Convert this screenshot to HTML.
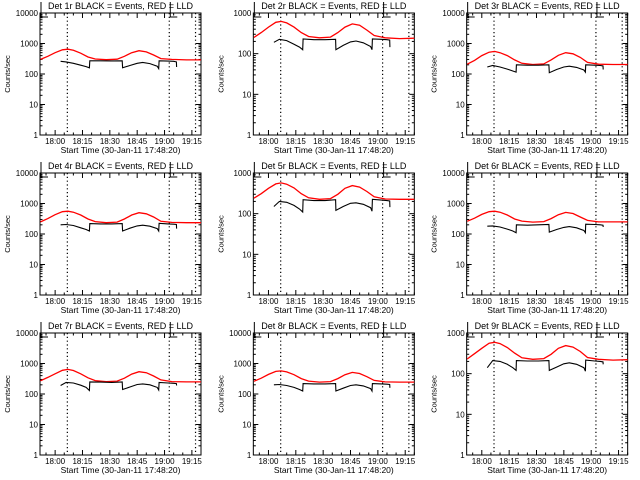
<!DOCTYPE html>
<html><head><meta charset="utf-8"><style>
body{margin:0;background:#fff;width:640px;height:480px;overflow:hidden}
svg{display:block;font-family:"Liberation Sans",sans-serif}
</style></head><body>
<svg id="chart" width="640" height="480" viewBox="0 0 640 480"></svg>
<script>
const detectors = ["1r","2r","3r","4r","5r","6r","7r","8r","9r"];
const yDecades = [4,3,4,4,3,4,4,4,3];
const xTickLabels = ["18:00","18:15","18:30","18:45","19:00","19:15"];
const xTickMinutes = [0,15,30,45,60,75];
const markerMinutes = [6.7,62.6,77];
const redTimes = [-8,-4,0,4,7,10,14,18,22,28,34,38,42,46,50,54,58,64,72,80];
const red1 = [300,380,500,620,650,600,480,360,310,295,305,380,500,580,530,420,320,300,290,290];
const red2 = [250,330,450,590,620,570,450,330,265,245,255,330,450,540,500,380,280,245,235,240];
const red3 = [210,280,400,520,550,500,400,290,225,205,215,290,410,500,460,350,240,210,205,205];
const red4 = [250,320,430,540,560,520,420,310,255,235,245,310,420,500,460,360,260,240,235,235];
const red5 = [240,310,420,540,570,530,430,310,245,225,235,300,420,490,450,350,260,230,225,225];
const red6 = [260,330,440,540,560,520,420,310,265,245,255,320,430,510,470,360,280,250,250,250];
const red7 = [270,350,460,600,640,590,460,340,275,255,265,330,450,540,500,390,290,255,250,250];
const red8 = [260,330,440,550,570,530,430,320,265,245,255,320,430,510,470,370,280,250,245,245];
const red9 = [230,310,420,560,590,550,440,320,245,225,235,300,420,490,450,350,250,225,215,220];
const blackTimes = [3,6,10,14,17,18.8,19,25,31,36.8,37,41,45,48,52,56,56.8,57,62,65,66.5,66.6];
const black1 = [260,250,225,195,175,160,270,270,268,270,160,190,225,240,220,180,150,270,265,260,250,170];
const black2 = [190,225,210,170,145,125,230,220,220,225,125,160,195,205,185,150,125,230,225,220,215,145];
const black3 = [170,190,170,145,125,115,200,195,195,200,110,140,170,180,165,135,115,200,195,190,185,140];
const black4 = [200,205,190,160,140,125,220,215,215,220,125,155,185,195,180,150,125,225,215,210,205,150];
const black5 = [150,200,190,160,130,110,220,210,210,220,120,150,180,185,170,140,115,225,215,210,205,145];
const black6 = [180,185,170,145,125,110,200,195,200,205,115,140,165,175,160,130,110,210,205,200,195,170];
const black7 = [190,240,230,195,165,130,250,245,240,250,140,170,205,215,200,165,135,240,230,225,220,190];
const black8 = [200,205,190,165,140,125,220,215,215,220,125,155,190,200,185,150,125,220,215,210,205,160];
const black9 = [140,210,200,170,140,120,210,205,205,210,120,145,175,185,170,140,115,215,205,200,195,170];
const redSeries = [red1,red2,red3,red4,red5,red6,red7,red8,red9];
const blackSeries = [black1,black2,black3,black4,black5,black6,black7,black8,black9];

const NS = "http://www.w3.org/2000/svg";
const svg = document.getElementById("chart");
function mk(tag, attrs, parent){const e=document.createElementNS(NS,tag);for(const k in attrs)e.setAttribute(k,attrs[k]);(parent||svg).appendChild(e);return e;}

for(let p=0;p<9;p++){
  const col=p%3,row=Math.floor(p/3);
  const ox=col*213.33, oy=row*160;
  const L=ox+40, R=ox+201, T=oy+13, B=oy+135;
  const dec=yDecades[p];
  const tmin=-8.3, tmax=80;
  const xs=t=>L+(t-tmin)/(tmax-tmin)*(R-L);
  const ys=v=>B-Math.log10(v)/dec*(B-T);
  const g=mk("g",{});
  
  
  const frame=mk("rect",{x:L,y:T,width:R-L,height:B-T,fill:"none",stroke:"#000","stroke-width":1},g);
  
  
  for(let d=0;d<=dec;d++){
    const y=ys(Math.pow(10,d));
    mk("line",{x1:L,x2:L+5,y1:y,y2:y,stroke:"#000"},g);
    mk("line",{x1:R,x2:R-5,y1:y,y2:y,stroke:"#000"},g);
    const lab=mk("text",{x:L-2,y:y+3,"text-anchor":"end","font-size":"8"},g);
    lab.textContent=String(Math.pow(10,d));
    
    
    if(d<dec)for(let m=2;m<10;m++){const ym=ys(m*Math.pow(10,d));
      mk("line",{x1:L,x2:L+2.5,y1:ym,y2:ym,stroke:"#000"},g);
      mk("line",{x1:R,x2:R-2.5,y1:ym,y2:ym,stroke:"#000"},g);}
  }
  for(let i=0;i<xTickMinutes.length;i++){
    const x=xs(xTickMinutes[i]);
    mk("line",{x1:x,x2:x,y1:B,y2:B-5,stroke:"#000"},g);
    mk("line",{x1:x,x2:x,y1:T,y2:T+5,stroke:"#000"},g);
    const lab=mk("text",{x:x,y:B+9,"text-anchor":"middle","font-size":"8"},g);
    lab.textContent=xTickLabels[i];
    
    
  }
  for(let t=-5;t<=80;t+=5){if(t%15===0)continue;const x=xs(t);
    mk("line",{x1:x,x2:x,y1:B,y2:B-2.5,stroke:"#000"},g);
    mk("line",{x1:x,x2:x,y1:T,y2:T+2.5,stroke:"#000"},g);}
  markerMinutes.forEach(m=>{const x=xs(m);
    const ln=mk("line",{x1:x,x2:x,y1:T,y2:B,stroke:"#000","stroke-dasharray":"1.2,2.6","stroke-width":1.2},g);
    
    });
  [tmin,markerMinutes[1]].forEach(t=>{const x=xs(t)+1;
    mk("polyline",{points:`${x},${oy+2} ${x},${T+4} ${x+7},${T+4}`,fill:"none",stroke:"#000"},g);});
  const rp=redTimes.map((t,i)=>xs(t).toFixed(1)+","+ys(redSeries[p][i]).toFixed(1)).join(" ");
  const rl=mk("polyline",{points:rp,fill:"none",stroke:"#f00","stroke-width":1.3},g);
  
  
  const bp=blackTimes.map((t,i)=>xs(t).toFixed(1)+","+ys(blackSeries[p][i]).toFixed(1)).join(" ");
  const bl=mk("polyline",{points:bp,fill:"none",stroke:"#000","stroke-width":1.1},g);
  
  
  const ti=mk("text",{x:(L+R)/2,y:oy+9,"text-anchor":"middle","font-size":"9"},g);
  ti.textContent="Det "+detectors[p]+" BLACK = Events, RED = LLD";
  
  
  const xt=mk("text",{x:(L+R)/2,y:B+18,"text-anchor":"middle","font-size":"8.5"},g);
  xt.textContent="Start Time (30-Jan-11 17:48:20)";
  
  
  const yt=mk("text",{x:0,y:0,"text-anchor":"middle","font-size":"7.5",transform:`translate(${ox+10},${(T+B)/2}) rotate(-90)`},g);
  yt.textContent="Counts/sec";
  
  
}
</script>
</body></html>
